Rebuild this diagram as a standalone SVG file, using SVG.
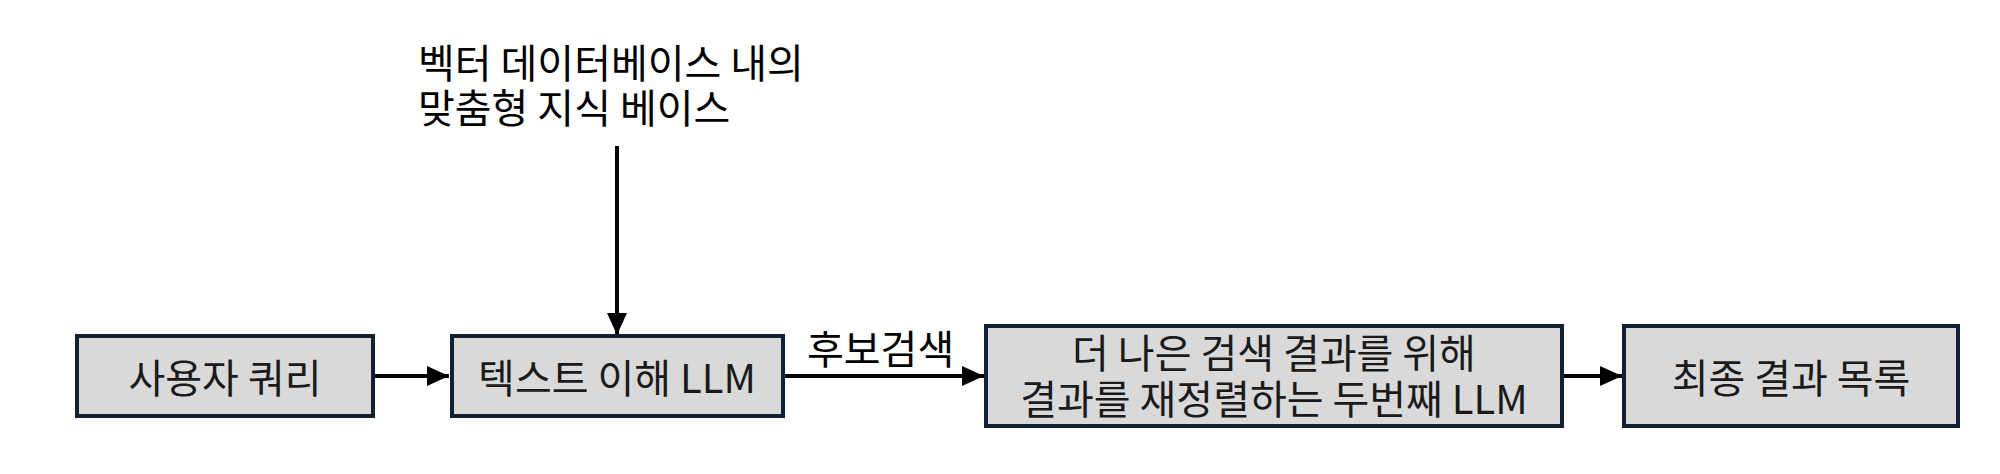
<svg xmlns="http://www.w3.org/2000/svg" width="2000" height="474" viewBox="0 0 2000 474">
<style>
.box{fill:#d9d9d9;stroke:#0e2233;stroke-width:4}
.t{font-family:"Noto Sans CJK KR","Noto Sans",sans-serif;font-size:40px;fill:#1a1a1a;text-anchor:middle;dominant-baseline:central}
.lbl{font-family:"Noto Sans CJK KR","Noto Sans",sans-serif;font-size:40px;fill:#000;dominant-baseline:central}
.c{stroke:#000;stroke-width:4;fill:none}
</style>
<defs>
<marker id="ah" markerUnits="userSpaceOnUse" markerWidth="22" markerHeight="20" viewBox="0 0 22 20" refX="22" refY="10" orient="auto">
<path d="M0,0 L22,10 L0,20 Z" fill="#000"/>
</marker>
</defs>
<g id="connectors">
<line class="c" x1="617" y1="146" x2="617" y2="335" marker-end="url(#ah)"/>
<line class="c" x1="375" y1="376" x2="449" y2="376" marker-end="url(#ah)"/>
<line class="c" x1="785" y1="376" x2="984" y2="376" marker-end="url(#ah)"/>
<line class="c" x1="1564" y1="376" x2="1622" y2="376" marker-end="url(#ah)"/>
<text class="lbl" x="807" y="347">후보검색</text>
</g>
<g id="kb">
<text class="lbl" x="418" y="61">벡터 데이터베이스 내의</text>
<text class="lbl" x="418" y="106">맞춤형 지식 베이스</text>
</g>
<g id="n1">
<rect class="box" x="77" y="336" width="296" height="80"/>
<text class="t" x="225" y="376">사용자 쿼리</text>
</g>
<g id="n2">
<rect class="box" x="452" y="336" width="331" height="80"/>
<text class="t" x="617" y="376">텍스트 이해 LLM</text>
</g>
<g id="n3">
<rect class="box" x="986" y="326" width="576" height="100"/>
<text class="t" x="1274" y="351">더 나은 검색 결과를 위해</text>
<text class="t" x="1274" y="397">결과를 재정렬하는 두번째 LLM</text>
</g>
<g id="n4">
<rect class="box" x="1624" y="326" width="334" height="100"/>
<text class="t" x="1791" y="376">최종 결과 목록</text>
</g>
</svg>
